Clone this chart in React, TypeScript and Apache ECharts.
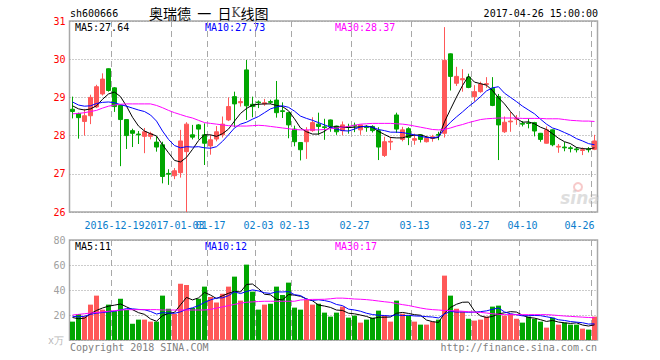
import React, { useEffect, useRef } from 'react';
import * as echarts from 'echarts';

const dates = [
  '2016-12-14', '2016-12-15', '2016-12-16', '2016-12-19', '2016-12-20', '2016-12-21', '2016-12-22', '2016-12-23', '2016-12-26', '2016-12-27',
  '2016-12-28', '2016-12-29', '2016-12-30', '2017-01-03', '2017-01-04', '2017-01-05', '2017-01-06', '2017-01-09', '2017-01-10', '2017-01-11',
  '2017-01-12', '2017-01-13', '2017-01-16', '2017-01-17', '2017-01-18', '2017-01-19', '2017-01-20', '2017-01-23', '2017-01-24', '2017-01-25',
  '2017-01-26', '2017-02-03', '2017-02-06', '2017-02-07', '2017-02-08', '2017-02-09', '2017-02-10', '2017-02-13', '2017-02-14', '2017-02-15',
  '2017-02-16', '2017-02-17', '2017-02-20', '2017-02-21', '2017-02-22', '2017-02-23', '2017-02-24', '2017-02-27', '2017-02-28', '2017-03-01',
  '2017-03-02', '2017-03-03', '2017-03-06', '2017-03-07', '2017-03-08', '2017-03-09', '2017-03-10', '2017-03-13', '2017-03-14', '2017-03-15',
  '2017-03-16', '2017-03-17', '2017-03-20', '2017-03-21', '2017-03-22', '2017-03-23', '2017-03-24', '2017-03-27', '2017-03-28', '2017-03-29',
  '2017-03-30', '2017-03-31', '2017-04-05', '2017-04-06', '2017-04-07', '2017-04-10', '2017-04-11', '2017-04-12', '2017-04-13', '2017-04-14',
  '2017-04-17', '2017-04-18', '2017-04-19', '2017-04-20', '2017-04-21', '2017-04-24', '2017-04-25', '2017-04-26',
];

const opens = [
  28.69, 28.58, 28.37, 28.52, 28.75, 29.09, 29.75, 29.25, 28.79, 28.42,
  28.13, 28.04, 27.98, 27.98, 27.83, 27.76, 27.01, 26.95, 27.03, 27.58,
  28.02, 28.28, 28.02, 27.73, 27.91, 28.02, 28.41, 29.02, 28.86, 29.72,
  28.82, 28.88, 28.83, 28.89, 28.93, 28.65, 28.60, 28.17, 27.82, 27.84,
  28.13, 28.30, 28.23, 28.41, 28.25, 28.13, 28.23, 28.27, 28.15, 28.23,
  28.24, 28.13, 27.48, 27.83, 28.54, 27.90, 28.18, 27.88, 28.02, 27.84,
  27.93, 28.03, 28.06, 30.14, 29.37, 29.46, 29.53, 29.02, 29.15, 29.34,
  29.24, 29.02, 28.10, 28.36, 28.43, 28.32, 28.33, 28.34, 28.06, 27.80,
  28.15, 27.70, 27.70, 27.68, 27.65, 27.61, 27.65, 27.64,
];
const closes = [
  28.63, 28.47, 28.52, 29.00, 29.28, 29.48, 29.18, 28.76, 28.42, 28.00,
  28.06, 28.02, 28.10, 28.05, 27.70, 26.93, 26.99, 27.08, 27.86, 28.30,
  27.96, 28.17, 27.80, 27.89, 28.10, 28.30, 28.76, 28.83, 28.89, 28.78,
  28.76, 28.86, 28.86, 28.87, 28.60, 28.63, 28.28, 27.84, 27.63, 28.13,
  28.34, 28.24, 28.21, 28.25, 28.10, 28.28, 28.22, 28.25, 28.28, 28.21,
  28.13, 27.70, 27.84, 27.85, 28.17, 28.15, 27.95, 27.92, 27.90, 27.93,
  27.97, 28.01, 29.97, 29.55, 29.55, 29.49, 29.26, 29.15, 29.35, 29.36,
  28.79, 28.28, 28.35, 28.38, 28.45, 28.30, 28.32, 28.12, 27.90, 28.15,
  27.76, 27.72, 27.68, 27.66, 27.63, 27.63, 27.63, 27.86,
];
const highs = [
  29.02, 28.60, 28.70, 29.07, 29.33, 29.63, 29.76, 29.27, 28.80, 28.42,
  28.18, 28.12, 28.20, 28.10, 27.98, 27.84, 27.12, 27.15, 28.15, 28.35,
  28.28, 28.30, 28.32, 28.02, 28.25, 28.50, 29.00, 29.15, 28.98, 29.98,
  29.02, 28.92, 28.96, 28.94, 29.43, 28.87, 28.61, 28.26, 27.83, 28.22,
  28.48, 28.60, 28.44, 28.42, 28.26, 28.37, 28.31, 28.34, 28.28, 28.27,
  28.27, 28.22, 27.97, 27.97, 28.60, 28.23, 28.22, 28.05, 28.03, 27.99,
  28.02, 28.10, 30.84, 30.15, 29.80, 29.74, 29.62, 29.32, 29.41, 29.53,
  29.53, 29.09, 28.50, 28.62, 28.54, 28.38, 28.45, 28.36, 28.07, 28.24,
  28.16, 27.78, 27.83, 27.73, 27.70, 27.69, 27.70, 28.02,
];
const lows = [
  28.45, 27.92, 28.00, 28.30, 28.72, 29.05, 29.15, 28.62, 27.20, 27.65,
  27.70, 27.78, 27.54, 27.90, 27.58, 26.75, 26.71, 26.86, 26.90, 26.00,
  27.90, 27.90, 27.23, 27.50, 27.85, 27.95, 28.38, 28.22, 28.76, 28.41,
  28.48, 28.72, 28.78, 28.83, 28.47, 28.46, 27.93, 27.72, 27.35, 27.39,
  28.10, 28.02, 27.89, 28.10, 28.02, 28.01, 28.05, 28.09, 28.02, 28.10,
  28.08, 27.36, 27.44, 27.62, 28.07, 27.85, 27.75, 27.76, 27.82, 27.82,
  27.84, 27.88, 27.95, 29.18, 29.30, 29.15, 29.24, 28.89, 29.12, 29.25,
  28.77, 27.36, 28.07, 28.10, 28.28, 28.24, 28.19, 27.98, 27.84, 27.79,
  27.72, 27.55, 27.59, 27.56, 27.56, 27.49, 27.56, 27.62,
];

const ma5 = [
  28.78, 28.70, 28.67, 28.70, 28.78, 28.95, 29.09, 29.14, 29.02, 28.77,
  28.48, 28.25, 28.12, 28.05, 27.99, 27.76, 27.55, 27.35, 27.31, 27.43,
  27.64, 27.87, 28.02, 28.02, 27.98, 28.05, 28.17, 28.38, 28.58, 28.71,
  28.80, 28.82, 28.83, 28.83, 28.79, 28.76, 28.65, 28.44, 28.20, 28.10,
  28.04, 28.04, 28.11, 28.23, 28.23, 28.22, 28.21, 28.22, 28.23, 28.25,
  28.22, 28.11, 28.03, 27.95, 27.94, 27.94, 27.99, 28.01, 28.02, 27.97,
  27.93, 27.95, 28.36, 28.69, 29.01, 29.31, 29.56, 29.40, 29.36, 29.32,
  29.18, 28.99, 28.83, 28.63, 28.45, 28.35, 28.36, 28.31, 28.22, 28.16,
  28.05, 27.93, 27.84, 27.79, 27.69, 27.66, 27.65, 27.68,
];
const ma10 = [
  28.88, 28.80, 28.77, 28.78, 28.84, 28.87, 28.88, 28.86, 28.81, 28.77,
  28.72, 28.67, 28.63, 28.54, 28.38, 28.12, 27.90, 27.74, 27.68, 27.71,
  27.70, 27.71, 27.68, 27.67, 27.71, 27.85, 28.02, 28.20, 28.30, 28.35,
  28.43, 28.50, 28.60, 28.70, 28.75, 28.78, 28.74, 28.64, 28.51, 28.45,
  28.40, 28.34, 28.28, 28.22, 28.17, 28.13, 28.12, 28.17, 28.23, 28.24,
  28.22, 28.16, 28.13, 28.09, 28.09, 28.08, 28.05, 28.02, 27.98, 27.95,
  27.94, 27.97, 28.18, 28.35, 28.49, 28.62, 28.76, 28.88, 29.02, 29.17,
  29.25, 29.28, 29.11, 29.00, 28.89, 28.77, 28.67, 28.57, 28.43, 28.30,
  28.20, 28.15, 28.08, 28.01, 27.92, 27.86, 27.79, 27.76,
];
const ma30 = [
  28.57, 28.58, 28.60, 28.63, 28.66, 28.72, 28.77, 28.80, 28.82, 28.83,
  28.83, 28.83, 28.83, 28.83, 28.79, 28.73, 28.66, 28.60, 28.55, 28.50,
  28.46, 28.40, 28.34, 28.32, 28.30, 28.28, 28.26, 28.25, 28.25, 28.25,
  28.26, 28.27, 28.26, 28.24, 28.22, 28.20, 28.18, 28.16, 28.15, 28.15,
  28.15, 28.15, 28.16, 28.18, 28.20, 28.22, 28.24, 28.27, 28.30, 28.31,
  28.32, 28.32, 28.32, 28.32, 28.31, 28.30, 28.28, 28.25, 28.22, 28.19,
  28.16, 28.15, 28.16, 28.20, 28.25, 28.29, 28.34, 28.38, 28.42, 28.44,
  28.45, 28.46, 28.46, 28.46, 28.46, 28.45, 28.45, 28.45, 28.45, 28.44,
  28.44, 28.44, 28.42, 28.40, 28.39, 28.38, 28.38, 28.37,
];

const volumes = [
  14.7, 20.8, 19.0, 28.3, 35.5, 24.3, 28.3, 23.0, 33.0, 24.0,
  13.0, 16.3, 16.3, 14.7, 14.7, 35.5, 25.0, 20.8, 45.0, 44.0,
  25.6, 33.0, 42.7, 34.4, 30.0, 37.0, 42.7, 50.7, 31.5, 60.3,
  38.7, 24.3, 28.3, 29.0, 42.7, 36.0, 45.9, 25.9, 24.3, 32.3,
  28.3, 29.0, 21.9, 18.7, 21.9, 26.7, 17.9, 19.5, 13.9, 16.3,
  17.9, 23.5, 19.5, 14.7, 31.5, 21.0, 19.5, 14.7, 12.3, 12.3,
  14.7, 16.3, 51.5, 35.5, 25.0, 22.7, 17.0, 15.5, 16.3, 18.7,
  26.7, 27.5, 19.5, 21.0, 17.0, 13.9, 18.7, 17.0, 14.7, 9.9,
  17.9, 12.3, 13.9, 12.3, 12.3, 9.1, 8.3, 18.7,
];
const vma5 = [
  18.0, 17.0, 17.5, 21.0, 23.66, 25.58, 27.08, 27.88, 28.82, 26.52,
  24.26, 21.86, 20.52, 16.86, 15.0, 19.5, 21.24, 22.14, 28.2, 34.06,
  32.08, 33.68, 38.06, 35.94, 33.14, 35.42, 37.36, 38.96, 38.38, 44.44,
  44.78, 41.1, 36.62, 36.12, 32.6, 32.06, 36.38, 35.9, 34.96, 32.88,
  31.34, 27.96, 27.16, 26.04, 23.96, 23.64, 21.42, 20.94, 19.98, 18.86,
  17.1, 18.22, 18.22, 18.38, 21.42, 22.04, 21.24, 20.28, 19.8, 15.96,
  14.7, 14.06, 21.42, 26.06, 28.6, 30.2, 30.34, 23.14, 19.3, 18.04,
  18.84, 20.94, 21.74, 22.68, 22.34, 19.78, 18.02, 17.52, 16.26, 14.84,
  15.64, 14.36, 13.74, 13.26, 13.74, 11.98, 11.18, 12.14,
];
const vma10 = [
  19.0, 18.5, 19.0, 20.5, 21.5, 22.0, 22.5, 23.0, 24.0, 25.09,
  24.92, 24.47, 24.2, 22.84, 20.76, 21.88, 21.55, 21.33, 22.53, 24.53,
  25.79, 27.46, 30.1, 32.07, 33.6, 33.75, 35.52, 38.51, 37.16, 38.79,
  40.1, 39.23, 37.79, 37.25, 38.52, 38.42, 38.74, 36.26, 35.54, 32.74,
  31.7, 32.17, 31.53, 30.5, 28.42, 27.49, 24.69, 24.05, 23.01, 21.41,
  20.37, 19.82, 19.58, 19.18, 20.14, 19.57, 19.73, 19.25, 19.09, 18.69,
  18.37, 17.65, 20.85, 22.93, 22.28, 22.45, 22.2, 22.28, 22.68, 23.32,
  24.52, 25.64, 22.44, 20.99, 20.19, 19.31, 19.48, 19.63, 19.47, 18.59,
  17.71, 16.19, 15.63, 14.76, 14.29, 13.81, 12.77, 12.94,
];
const vma30 = [
  20.0, 20.5, 21.0, 21.6, 22.0, 22.5, 23.0, 23.5, 24.0, 24.2,
  24.3, 24.3, 24.3, 24.3, 24.3, 24.0, 24.0, 24.0, 24.0, 24.0,
  24.0, 24.0, 24.0, 24.5, 25.5, 26.5, 27.5, 28.5, 29.5, 30.2,
  30.5, 30.8, 31.0, 31.0, 31.0, 31.0, 31.0, 31.0, 32.0, 32.3,
  32.5, 32.5, 32.6, 33.0, 33.5, 33.5, 33.2, 32.8, 32.6, 32.3,
  31.8, 31.2, 30.6, 30.1, 29.2, 28.3, 27.6, 26.6, 25.6, 24.8,
  24.3, 24.0, 23.6, 23.5, 23.3, 23.0, 22.6, 22.3, 22.1, 21.6,
  21.0, 20.6, 20.3, 20.3, 20.3, 20.3, 20.3, 20.3, 20.3, 20.3,
  20.0, 19.6, 19.2, 18.9, 18.6, 18.3, 18.0, 17.8,
];

// Tick positions (category index) and the date labels printed under them.
const tickIndex = [7, 17, 23, 31, 37, 47, 57, 67, 75, 87];
const tickText = ['2016-12-19', '2017-01-03', '01-17', '02-03', '02-13', '02-27', '03-13', '03-27', '04-10', '04-26'];
// The label that overlaps its neighbours in the original is drawn by a second, label-only axis.
const overlapTickIndex = [17];

const priceMaLabels = ['MA5:27.64', 'MA10:27.73', 'MA30:28.37'];
const volumeMaLabels = ['MA5:11', 'MA10:12', 'MA30:17'];

const UP = '#ff5858';
const DOWN = '#00a600';
const MA_COLORS = ['#000000', '#0000ff', '#ff00ff'];
const MONO = '"DejaVu Sans Mono", monospace';
const DASH = [6, 4];
const DOT = [1, 2];

export default function App() {
  const ref = useRef<HTMLDivElement>(null);

  useEffect(() => {
    document.body.style.margin = '0';
    const chart = echarts.init(ref.current as HTMLDivElement, null, { renderer: 'svg' });

    const candleData = dates.map((_, i) => [opens[i], closes[i], lows[i], highs[i]]);
    const volumeData = volumes.map((v, i) => ({
      value: v,
      itemStyle: { color: closes[i] >= opens[i] ? UP : DOWN },
    }));
    const isTick = (i: number) => tickIndex.indexOf(i) >= 0;
    const isMainLabel = (i: number) => isTick(i) && overlapTickIndex.indexOf(i) < 0;
    const isOverlapLabel = (i: number) => overlapTickIndex.indexOf(i) >= 0;
    const labelFor = (_v: string, i: number) => {
      const k = tickIndex.indexOf(i);
      return k >= 0 ? tickText[k] : '';
    };

    const text = (t: string, x: number, y: number, fill: string, align = 'left', size = 10) => ({
      type: 'text',
      x,
      y,
      silent: true,
      style: { text: t, fill, font: `${size}px ${MONO}`, align, verticalAlign: 'middle' },
    });

    const maLine = (name: string, data: number[], color: string, idx: number) => ({
      name,
      type: 'line',
      xAxisIndex: idx,
      yAxisIndex: idx,
      data,
      showSymbol: false,
      symbol: 'none',
      smooth: false,
      lineStyle: { width: 1, color },
      itemStyle: { color },
      z: 5,
    });

    const xAxisBase = {
      type: 'category',
      data: dates,
      boundaryGap: true,
      axisLine: { show: false },
      axisTick: { show: false },
      splitLine: { show: true, interval: (i: number) => isTick(i), lineStyle: { type: DASH, color: '#a8a8a8', width: 1 } },
    };
    const labelStyle = {
      color: '#0a7dcc',
      fontFamily: MONO,
      fontSize: 10,
      margin: 8,
      showMinLabel: true,
      showMaxLabel: true,
      hideOverlap: false,
      formatter: labelFor,
    };

    const option: any = {
      animation: false,
      backgroundColor: '#ffffff',
      textStyle: { fontFamily: MONO },
      grid: [
        { left: 69.5, top: 21, width: 528, height: 191, show: true, borderColor: '#a8a8a8', borderWidth: 1.5, backgroundColor: 'transparent' },
        { left: 69.5, top: 240, width: 528, height: 100, show: true, borderColor: '#a8a8a8', borderWidth: 1.5, backgroundColor: 'transparent' },
      ],
      xAxis: [
        {
          ...xAxisBase,
          gridIndex: 0,
          position: 'bottom',
          axisLabel: { ...labelStyle, interval: (i: number) => isMainLabel(i), alignMaxLabel: 'right' },
        },
        {
          ...xAxisBase,
          gridIndex: 1,
          axisLabel: { show: false },
        },
        {
          type: 'category',
          data: dates,
          boundaryGap: true,
          gridIndex: 0,
          position: 'bottom',
          axisLine: { show: false },
          axisTick: { show: false },
          splitLine: { show: false },
          axisLabel: { ...labelStyle, interval: (i: number) => isOverlapLabel(i) },
        },
      ],
      yAxis: [
        {
          type: 'value',
          gridIndex: 0,
          min: 26,
          max: 31,
          interval: 1,
          axisLine: { show: false },
          axisTick: { show: false },
          axisLabel: { color: '#ff0000', fontFamily: MONO, fontSize: 10, margin: 4 },
          splitLine: { show: true, lineStyle: { type: DOT, color: '#999999', width: 1 } },
        },
        {
          type: 'value',
          gridIndex: 1,
          min: 0,
          max: 80,
          interval: 20,
          axisLine: { show: false },
          axisTick: { show: false },
          axisLabel: {
            color: '#a0a0a0',
            fontFamily: MONO,
            fontSize: 10,
            margin: 4,
            formatter: (v: number) => (v === 0 ? '' : String(v)),
          },
          splitLine: { show: true, lineStyle: { type: DOT, color: '#999999', width: 1 } },
        },
      ],
      series: [
        {
          name: 'K',
          type: 'candlestick',
          xAxisIndex: 0,
          yAxisIndex: 0,
          data: candleData,
          barWidth: 5,
          itemStyle: { color: UP, color0: DOWN, borderColor: UP, borderColor0: DOWN, borderWidth: 1 },
          z: 3,
        },
        maLine('MA5', ma5, MA_COLORS[0], 0),
        maLine('MA10', ma10, MA_COLORS[1], 0),
        maLine('MA30', ma30, MA_COLORS[2], 0),
        {
          name: 'VOL',
          type: 'bar',
          xAxisIndex: 1,
          yAxisIndex: 1,
          data: volumeData,
          barWidth: 5,
          z: 3,
        },
        maLine('VMA5', vma5, MA_COLORS[0], 1),
        maLine('VMA10', vma10, MA_COLORS[1], 1),
        maLine('VMA30', vma30, MA_COLORS[2], 1),
      ],
      graphic: [
        text('sh600666', 70, 13, '#000000'),
        {
          type: 'text',
          x: 149,
          y: 13,
          silent: true,
          style: {
            text: '奥瑞德  一  日{k|K}线图',
            fill: '#000000',
            font: '14px "Noto Sans CJK SC", sans-serif',
            verticalAlign: 'middle',
            align: 'left',
            rich: {
              k: { fill: '#444444', font: '12px "DejaVu Serif", serif' },
            },
          },
        },
        text('2017-04-26 15:00:00', 598, 13, '#000000', 'right'),
        text(priceMaLabels[0], 75, 27, MA_COLORS[0]),
        text(priceMaLabels[1], 205, 27, MA_COLORS[1]),
        text(priceMaLabels[2], 335, 27, MA_COLORS[2]),
        text(volumeMaLabels[0], 75, 246, MA_COLORS[0]),
        text(volumeMaLabels[1], 205, 246, MA_COLORS[1]),
        text(volumeMaLabels[2], 335, 246, MA_COLORS[2]),
        text('x万', 64, 340, '#b8b8b8', 'right'),
        text('Copyright 2018 SINA.COM', 70, 347, '#808080'),
        text('http://finance.sina.com.cn', 597, 347, '#808080', 'right'),
        {
          type: 'circle',
          silent: true,
          shape: { cx: 578, cy: 187, r: 4 },
          style: { fill: 'none', stroke: 'rgba(240,150,150,0.5)', lineWidth: 2 },
        },
        {
          type: 'text',
          x: 580,
          y: 198,
          silent: true,
          style: {
            text: 'sina',
            fill: 'rgba(200,200,200,0.6)',
            font: 'italic bold 17px "DejaVu Sans", sans-serif',
            align: 'center',
            verticalAlign: 'middle',
          },
        },
      ],
    };

    chart.setOption(option);
    return () => chart.dispose();
  }, []);

  return <div ref={ref} style={{ width: 660, height: 360 }} />;
}
